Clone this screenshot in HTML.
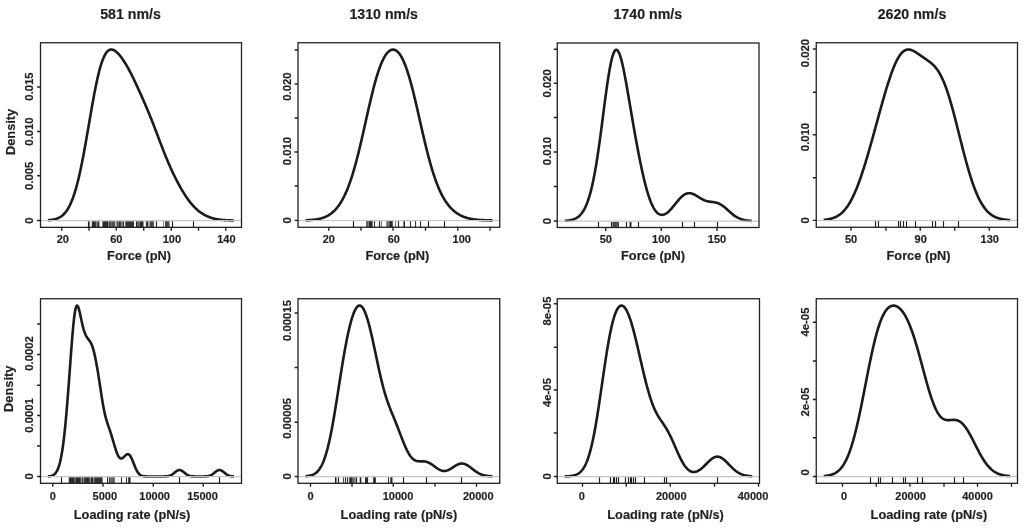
<!DOCTYPE html>
<html><head><meta charset="utf-8"><title>Density plots</title>
<style>
html,body{margin:0;padding:0;background:#fff;}
body{width:1024px;height:530px;overflow:hidden;position:relative;font-family:"Liberation Sans",sans-serif;}
svg text{font-family:"Liberation Sans",sans-serif;stroke:#231f20;stroke-width:0.18px;stroke-linejoin:round;}
</style></head><body>
<svg width="1024" height="530" viewBox="0 0 1024 530" style="display:block;position:absolute;left:0;top:0;filter:blur(0.3px)">
<rect x="0" y="0" width="1024" height="530" fill="#ffffff"/>
<g opacity="0.999" font-family="Liberation Sans, sans-serif" font-weight="bold" fill="#231f20">
<rect x="87.92" y="221.21" width="1.16" height="6.14" fill="#231f20" fill-opacity="1.00"/>
<rect x="88.92" y="221.21" width="1.16" height="6.14" fill="#231f20" fill-opacity="0.55"/>
<rect x="91.80" y="221.21" width="4.10" height="6.14" fill="#231f20" fill-opacity="0.95"/>
<rect x="95.92" y="221.21" width="1.16" height="6.14" fill="#231f20" fill-opacity="0.60"/>
<rect x="97.40" y="221.21" width="2.00" height="6.14" fill="#231f20" fill-opacity="1.00"/>
<rect x="102.40" y="221.21" width="5.60" height="6.14" fill="#231f20" fill-opacity="0.95"/>
<rect x="107.92" y="221.21" width="1.16" height="6.14" fill="#231f20" fill-opacity="0.50"/>
<rect x="109.00" y="221.21" width="6.30" height="6.14" fill="#231f20" fill-opacity="0.54"/>
<rect x="109.00" y="221.21" width="1.00" height="6.14" fill="#231f20" fill-opacity="0.64"/>
<rect x="110.33" y="221.21" width="1.00" height="6.14" fill="#231f20" fill-opacity="0.64"/>
<rect x="111.65" y="221.21" width="1.00" height="6.14" fill="#231f20" fill-opacity="0.64"/>
<rect x="112.97" y="221.21" width="1.00" height="6.14" fill="#231f20" fill-opacity="0.64"/>
<rect x="114.30" y="221.21" width="1.00" height="6.14" fill="#231f20" fill-opacity="0.64"/>
<rect x="116.40" y="221.21" width="2.30" height="6.14" fill="#231f20" fill-opacity="0.41"/>
<rect x="116.40" y="221.21" width="1.00" height="6.14" fill="#231f20" fill-opacity="0.48"/>
<rect x="117.05" y="221.21" width="1.00" height="6.14" fill="#231f20" fill-opacity="0.48"/>
<rect x="117.70" y="221.21" width="1.00" height="6.14" fill="#231f20" fill-opacity="0.48"/>
<rect x="118.70" y="221.21" width="2.20" height="6.14" fill="#231f20" fill-opacity="0.95"/>
<rect x="121.00" y="221.21" width="2.00" height="6.14" fill="#231f20" fill-opacity="0.31"/>
<rect x="121.00" y="221.21" width="1.00" height="6.14" fill="#231f20" fill-opacity="0.36"/>
<rect x="122.00" y="221.21" width="1.00" height="6.14" fill="#231f20" fill-opacity="0.36"/>
<rect x="122.92" y="221.21" width="1.16" height="6.14" fill="#231f20" fill-opacity="0.95"/>
<rect x="124.92" y="221.21" width="1.16" height="6.14" fill="#231f20" fill-opacity="0.60"/>
<rect x="125.90" y="221.21" width="8.10" height="6.14" fill="#231f20" fill-opacity="0.92"/>
<rect x="135.92" y="221.21" width="1.16" height="6.14" fill="#231f20" fill-opacity="1.00"/>
<rect x="137.10" y="221.21" width="2.50" height="6.14" fill="#231f20" fill-opacity="0.41"/>
<rect x="137.10" y="221.21" width="1.00" height="6.14" fill="#231f20" fill-opacity="0.48"/>
<rect x="137.85" y="221.21" width="1.00" height="6.14" fill="#231f20" fill-opacity="0.48"/>
<rect x="138.60" y="221.21" width="1.00" height="6.14" fill="#231f20" fill-opacity="0.48"/>
<rect x="139.60" y="221.21" width="3.90" height="6.14" fill="#231f20" fill-opacity="0.95"/>
<rect x="145.90" y="221.21" width="2.50" height="6.14" fill="#231f20" fill-opacity="0.90"/>
<rect x="149.60" y="221.21" width="4.20" height="6.14" fill="#231f20" fill-opacity="0.58"/>
<rect x="149.60" y="221.21" width="1.00" height="6.14" fill="#231f20" fill-opacity="0.68"/>
<rect x="150.67" y="221.21" width="1.00" height="6.14" fill="#231f20" fill-opacity="0.68"/>
<rect x="151.73" y="221.21" width="1.00" height="6.14" fill="#231f20" fill-opacity="0.68"/>
<rect x="152.80" y="221.21" width="1.00" height="6.14" fill="#231f20" fill-opacity="0.68"/>
<rect x="155.92" y="221.21" width="1.16" height="6.14" fill="#231f20" fill-opacity="1.00"/>
<rect x="162.92" y="221.21" width="1.16" height="6.14" fill="#231f20" fill-opacity="0.50"/>
<rect x="165.00" y="221.21" width="4.40" height="6.14" fill="#231f20" fill-opacity="0.58"/>
<rect x="165.00" y="221.21" width="1.00" height="6.14" fill="#231f20" fill-opacity="0.68"/>
<rect x="166.13" y="221.21" width="1.00" height="6.14" fill="#231f20" fill-opacity="0.68"/>
<rect x="167.27" y="221.21" width="1.00" height="6.14" fill="#231f20" fill-opacity="0.68"/>
<rect x="168.40" y="221.21" width="1.00" height="6.14" fill="#231f20" fill-opacity="0.68"/>
<rect x="171.92" y="221.21" width="1.16" height="6.14" fill="#231f20" fill-opacity="1.00"/>
<rect x="192.92" y="221.21" width="1.16" height="6.14" fill="#231f20" fill-opacity="1.00"/>
<path d="M47.94 220.22L48.44 220.18L48.94 220.14L49.44 220.10L49.94 220.05L50.44 219.99L50.94 219.93L51.44 219.87L51.94 219.80L52.44 219.72L52.94 219.63L53.44 219.54L53.94 219.43L54.44 219.32L54.94 219.19L55.44 219.06L55.94 218.91L56.44 218.75L56.94 218.58L57.44 218.39L57.94 218.18L58.44 217.96L58.94 217.72L59.44 217.46L59.94 217.18L60.44 216.88L60.94 216.55L61.44 216.20L61.94 215.83L62.44 215.42L62.94 214.99L63.44 214.53L63.94 214.04L64.44 213.51L64.94 212.95L65.44 212.35L65.94 211.72L66.44 211.04L66.94 210.32L67.44 209.56L67.94 208.76L68.44 207.90L68.94 207.00L69.44 206.05L69.94 205.05L70.44 204.00L70.94 202.89L71.44 201.72L71.94 200.50L72.44 199.22L72.94 197.88L73.44 196.47L73.94 195.01L74.44 193.48L74.94 191.89L75.44 190.24L75.94 188.52L76.44 186.73L76.94 184.88L77.44 182.97L77.94 180.99L78.44 178.94L78.94 176.83L79.44 174.66L79.94 172.42L80.44 170.13L80.94 167.77L81.44 165.36L81.94 162.89L82.44 160.36L82.94 157.79L83.44 155.17L83.94 152.50L84.44 149.79L84.94 147.04L85.44 144.25L85.94 141.44L86.44 138.59L86.94 135.72L87.44 132.83L87.94 129.93L88.44 127.02L88.94 124.10L89.44 121.18L89.94 118.27L90.44 115.37L90.94 112.48L91.44 109.61L91.94 106.77L92.44 103.96L92.94 101.18L93.44 98.44L93.94 95.75L94.44 93.10L94.94 90.52L95.44 87.99L95.94 85.52L96.44 83.12L96.94 80.78L97.44 78.53L97.94 76.35L98.44 74.24L98.94 72.23L99.44 70.29L99.94 68.44L100.44 66.68L100.94 65.01L101.44 63.43L101.94 61.94L102.44 60.54L102.94 59.23L103.44 58.01L103.94 56.88L104.44 55.84L104.94 54.89L105.44 54.02L105.94 53.24L106.44 52.54L106.94 51.92L107.44 51.38L107.94 50.91L108.44 50.52L108.94 50.20L109.44 49.94L109.94 49.75L110.44 49.62L110.94 49.56L111.44 49.54L111.94 49.59L112.44 49.68L112.94 49.82L113.44 50.01L113.94 50.24L114.44 50.51L114.94 50.82L115.44 51.17L115.94 51.55L116.44 51.96L116.94 52.40L117.44 52.88L117.94 53.38L118.44 53.90L118.94 54.46L119.44 55.03L119.94 55.63L120.44 56.25L120.94 56.89L121.44 57.56L121.94 58.24L122.44 58.94L122.94 59.67L123.44 60.41L123.94 61.16L124.44 61.94L124.94 62.73L125.44 63.54L125.94 64.37L126.44 65.21L126.94 66.07L127.44 66.95L127.94 67.84L128.44 68.75L128.94 69.67L129.44 70.60L129.94 71.55L130.44 72.51L130.94 73.48L131.44 74.46L131.94 75.46L132.44 76.47L132.94 77.48L133.44 78.51L133.94 79.54L134.44 80.59L134.94 81.64L135.44 82.70L135.94 83.77L136.44 84.84L136.94 85.92L137.44 87.00L137.94 88.09L138.44 89.19L138.94 90.29L139.44 91.39L139.94 92.50L140.44 93.61L140.94 94.73L141.44 95.85L141.94 96.98L142.44 98.11L142.94 99.24L143.44 100.38L143.94 101.53L144.44 102.68L144.94 103.84L145.44 105.00L145.94 106.17L146.44 107.34L146.94 108.52L147.44 109.71L147.94 110.91L148.44 112.11L148.94 113.32L149.44 114.54L149.94 115.77L150.44 117.00L150.94 118.25L151.44 119.50L151.94 120.76L152.44 122.02L152.94 123.29L153.44 124.57L153.94 125.86L154.44 127.15L154.94 128.45L155.44 129.75L155.94 131.06L156.44 132.37L156.94 133.69L157.44 135.00L157.94 136.32L158.44 137.64L158.94 138.96L159.44 140.27L159.94 141.59L160.44 142.90L160.94 144.21L161.44 145.51L161.94 146.81L162.44 148.10L162.94 149.38L163.44 150.66L163.94 151.93L164.44 153.19L164.94 154.44L165.44 155.68L165.94 156.91L166.44 158.13L166.94 159.34L167.44 160.54L167.94 161.72L168.44 162.90L168.94 164.06L169.44 165.20L169.94 166.34L170.44 167.46L170.94 168.58L171.44 169.67L171.94 170.76L172.44 171.84L172.94 172.90L173.44 173.95L173.94 174.99L174.44 176.01L174.94 177.03L175.44 178.03L175.94 179.02L176.44 180.00L176.94 180.97L177.44 181.93L177.94 182.87L178.44 183.81L178.94 184.73L179.44 185.64L179.94 186.54L180.44 187.43L180.94 188.31L181.44 189.17L181.94 190.03L182.44 190.87L182.94 191.70L183.44 192.52L183.94 193.32L184.44 194.12L184.94 194.90L185.44 195.66L185.94 196.42L186.44 197.16L186.94 197.89L187.44 198.60L187.94 199.30L188.44 199.99L188.94 200.66L189.44 201.32L189.94 201.96L190.44 202.59L190.94 203.21L191.44 203.81L191.94 204.40L192.44 204.97L192.94 205.53L193.44 206.08L193.94 206.61L194.44 207.13L194.94 207.63L195.44 208.13L195.94 208.60L196.44 209.07L196.94 209.52L197.44 209.96L197.94 210.38L198.44 210.80L198.94 211.20L199.44 211.58L199.94 211.96L200.44 212.33L200.94 212.68L201.44 213.02L201.94 213.35L202.44 213.67L202.94 213.99L203.44 214.28L203.94 214.57L204.44 214.85L204.94 215.12L205.44 215.39L205.94 215.64L206.44 215.88L206.94 216.11L207.44 216.34L207.94 216.55L208.44 216.76L208.94 216.96L209.44 217.15L209.94 217.34L210.44 217.51L210.94 217.68L211.44 217.85L211.94 218.00L212.44 218.15L212.94 218.29L213.44 218.43L213.94 218.55L214.44 218.68L214.94 218.79L215.44 218.91L215.94 219.01L216.44 219.11L216.94 219.20L217.44 219.29L217.94 219.38L218.44 219.46L218.94 219.53L219.44 219.60L219.94 219.67L220.44 219.73L220.94 219.79L221.44 219.85L221.94 219.90L222.44 219.95L222.94 219.99L223.44 220.04L223.94 220.07L224.44 220.11L224.94 220.15L225.44 220.18L225.94 220.21L226.44 220.23L226.94 220.26L227.44 220.28L227.94 220.30L228.44 220.32L228.94 220.34L229.44 220.36L229.94 220.37L230.44 220.38L230.94 220.40L231.44 220.41L231.94 220.42L232.44 220.43L232.94 220.44L233.44 220.45L233.94 220.45" stroke="#1c1a1b" stroke-width="2.60" fill="none" stroke-linecap="butt" stroke-linejoin="round"/>
<line x1="38.50" y1="220.61" x2="241.50" y2="220.61" stroke="#c6c6c6" stroke-width="1.15"/>
<rect x="40.50" y="42.75" width="201.00" height="184.60" fill="none" stroke="#231f20" stroke-width="1.3"/>
<path d="M61.75 227.35v3.4M89.00 227.35v3.4M116.25 227.35v3.4M143.75 227.35v3.4M171.25 227.35v3.4M198.50 227.35v3.4M225.75 227.35v3.4M40.50 220.51h-3.4M40.50 175.75h-3.4M40.50 131.50h-3.4M40.50 87.00h-3.4" stroke="#231f20" stroke-width="1.35" fill="none"/>
<text x="62.80" y="243.00" font-size="11" text-anchor="middle">20</text>
<text x="116.25" y="243.00" font-size="11" text-anchor="middle">60</text>
<text x="171.90" y="243.00" font-size="11" text-anchor="middle">100</text>
<text x="226.40" y="243.00" font-size="11" text-anchor="middle">140</text>
<text transform="translate(33.20 220.51) rotate(-90)" font-size="11.3" text-anchor="middle">0</text>
<text transform="translate(33.20 175.75) rotate(-90)" font-size="11.3" text-anchor="middle">0.005</text>
<text transform="translate(33.20 131.50) rotate(-90)" font-size="11.3" text-anchor="middle">0.010</text>
<text transform="translate(33.20 86.50) rotate(-90)" font-size="11.3" text-anchor="middle">0.015</text>
<text x="139.10" y="259.60" font-size="12.8" text-anchor="middle">Force (pN)</text>
<text transform="translate(15.10 131.90) rotate(-90)" font-size="12.8" text-anchor="middle">Density</text>
<text x="130.60" y="19.30" font-size="14.2" text-anchor="middle">581 nm/s</text>
<rect x="352.92" y="221.12" width="1.16" height="6.13" fill="#231f20" fill-opacity="1.00"/>
<rect x="366.10" y="221.12" width="2.60" height="6.13" fill="#231f20" fill-opacity="0.41"/>
<rect x="366.10" y="221.12" width="1.00" height="6.13" fill="#231f20" fill-opacity="0.48"/>
<rect x="366.90" y="221.12" width="1.00" height="6.13" fill="#231f20" fill-opacity="0.48"/>
<rect x="367.70" y="221.12" width="1.00" height="6.13" fill="#231f20" fill-opacity="0.48"/>
<rect x="368.90" y="221.12" width="3.70" height="6.13" fill="#231f20" fill-opacity="0.95"/>
<rect x="373.92" y="221.12" width="1.16" height="6.13" fill="#231f20" fill-opacity="0.90"/>
<rect x="378.92" y="221.12" width="1.16" height="6.13" fill="#231f20" fill-opacity="0.95"/>
<rect x="380.92" y="221.12" width="1.16" height="6.13" fill="#231f20" fill-opacity="0.60"/>
<rect x="386.40" y="221.12" width="3.60" height="6.13" fill="#231f20" fill-opacity="0.44"/>
<rect x="386.40" y="221.12" width="1.00" height="6.13" fill="#231f20" fill-opacity="0.52"/>
<rect x="387.70" y="221.12" width="1.00" height="6.13" fill="#231f20" fill-opacity="0.52"/>
<rect x="389.00" y="221.12" width="1.00" height="6.13" fill="#231f20" fill-opacity="0.52"/>
<rect x="390.00" y="221.12" width="2.80" height="6.13" fill="#231f20" fill-opacity="0.95"/>
<rect x="394.92" y="221.12" width="1.16" height="6.13" fill="#231f20" fill-opacity="0.60"/>
<rect x="397.92" y="221.12" width="1.16" height="6.13" fill="#231f20" fill-opacity="0.95"/>
<rect x="403.40" y="221.12" width="1.60" height="6.13" fill="#231f20" fill-opacity="0.95"/>
<rect x="409.92" y="221.12" width="1.16" height="6.13" fill="#231f20" fill-opacity="0.90"/>
<rect x="414.92" y="221.12" width="1.16" height="6.13" fill="#231f20" fill-opacity="0.90"/>
<rect x="419.92" y="221.12" width="1.16" height="6.13" fill="#231f20" fill-opacity="0.90"/>
<rect x="427.92" y="221.12" width="1.16" height="6.13" fill="#231f20" fill-opacity="1.00"/>
<rect x="443.92" y="221.12" width="1.16" height="6.13" fill="#231f20" fill-opacity="1.00"/>
<path d="M305.47 220.25L305.97 220.24L306.47 220.22L306.97 220.20L307.47 220.18L307.97 220.16L308.47 220.13L308.97 220.11L309.47 220.08L309.97 220.05L310.47 220.02L310.97 219.98L311.47 219.94L311.97 219.90L312.47 219.86L312.97 219.81L313.47 219.76L313.97 219.70L314.47 219.65L314.97 219.58L315.47 219.52L315.97 219.44L316.47 219.37L316.97 219.28L317.47 219.20L317.97 219.10L318.47 219.01L318.97 218.90L319.47 218.79L319.97 218.67L320.47 218.55L320.97 218.41L321.47 218.27L321.97 218.12L322.47 217.97L322.97 217.80L323.47 217.62L323.97 217.44L324.47 217.24L324.97 217.04L325.47 216.82L325.97 216.59L326.47 216.35L326.97 216.10L327.47 215.84L327.97 215.56L328.47 215.27L328.97 214.97L329.47 214.65L329.97 214.32L330.47 213.97L330.97 213.61L331.47 213.23L331.97 212.83L332.47 212.42L332.97 211.98L333.47 211.53L333.97 211.06L334.47 210.57L334.97 210.06L335.47 209.53L335.97 208.98L336.47 208.41L336.97 207.81L337.47 207.20L337.97 206.55L338.47 205.89L338.97 205.19L339.47 204.48L339.97 203.73L340.47 202.96L340.97 202.16L341.47 201.33L341.97 200.47L342.47 199.59L342.97 198.67L343.47 197.72L343.97 196.74L344.47 195.73L344.97 194.68L345.47 193.61L345.97 192.49L346.47 191.34L346.97 190.16L347.47 188.94L347.97 187.69L348.47 186.40L348.97 185.07L349.47 183.70L349.97 182.30L350.47 180.86L350.97 179.38L351.47 177.86L351.97 176.31L352.47 174.72L352.97 173.09L353.47 171.42L353.97 169.72L354.47 167.98L354.97 166.20L355.47 164.39L355.97 162.54L356.47 160.66L356.97 158.75L357.47 156.80L357.97 154.82L358.47 152.82L358.97 150.78L359.47 148.72L359.97 146.64L360.47 144.53L360.97 142.39L361.47 140.24L361.97 138.07L362.47 135.89L362.97 133.69L363.47 131.47L363.97 129.25L364.47 127.02L364.97 124.79L365.47 122.55L365.97 120.31L366.47 118.08L366.97 115.85L367.47 113.63L367.97 111.41L368.47 109.21L368.97 107.02L369.47 104.85L369.97 102.70L370.47 100.58L370.97 98.47L371.47 96.39L371.97 94.34L372.47 92.33L372.97 90.34L373.47 88.39L373.97 86.47L374.47 84.60L374.97 82.76L375.47 80.97L375.97 79.22L376.47 77.51L376.97 75.85L377.47 74.24L377.97 72.67L378.47 71.15L378.97 69.69L379.47 68.27L379.97 66.90L380.47 65.59L380.97 64.33L381.47 63.12L381.97 61.96L382.47 60.85L382.97 59.80L383.47 58.80L383.97 57.85L384.47 56.96L384.97 56.11L385.47 55.32L385.97 54.59L386.47 53.90L386.97 53.26L387.47 52.68L387.97 52.15L388.47 51.67L388.97 51.24L389.47 50.86L389.97 50.53L390.47 50.25L390.97 50.02L391.47 49.84L391.97 49.71L392.47 49.63L392.97 49.61L393.47 49.63L393.97 49.70L394.47 49.82L394.97 50.00L395.47 50.22L395.97 50.50L396.47 50.82L396.97 51.20L397.47 51.63L397.97 52.12L398.47 52.65L398.97 53.24L399.47 53.88L399.97 54.58L400.47 55.33L400.97 56.13L401.47 56.99L401.97 57.90L402.47 58.87L402.97 59.89L403.47 60.97L403.97 62.10L404.47 63.28L404.97 64.52L405.47 65.81L405.97 67.16L406.47 68.55L406.97 70.00L407.47 71.50L407.97 73.05L408.47 74.65L408.97 76.29L409.47 77.98L409.97 79.72L410.47 81.50L410.97 83.32L411.47 85.18L411.97 87.08L412.47 89.02L412.97 90.99L413.47 92.99L413.97 95.02L414.47 97.08L414.97 99.17L415.47 101.28L415.97 103.41L416.47 105.56L416.97 107.73L417.47 109.91L417.97 112.10L418.47 114.30L418.97 116.51L419.47 118.72L419.97 120.93L420.47 123.14L420.97 125.34L421.47 127.55L421.97 129.74L422.47 131.92L422.97 134.09L423.47 136.25L423.97 138.39L424.47 140.51L424.97 142.61L425.47 144.69L425.97 146.75L426.47 148.78L426.97 150.78L427.47 152.75L427.97 154.70L428.47 156.61L428.97 158.50L429.47 160.35L429.97 162.17L430.47 163.95L430.97 165.70L431.47 167.41L431.97 169.09L432.47 170.73L432.97 172.34L433.47 173.90L433.97 175.44L434.47 176.93L434.97 178.39L435.47 179.81L435.97 181.19L436.47 182.54L436.97 183.85L437.47 185.12L437.97 186.37L438.47 187.57L438.97 188.74L439.47 189.88L439.97 190.98L440.47 192.05L440.97 193.09L441.47 194.10L441.97 195.07L442.47 196.02L442.97 196.94L443.47 197.82L443.97 198.68L444.47 199.51L444.97 200.32L445.47 201.10L445.97 201.85L446.47 202.58L446.97 203.28L447.47 203.96L447.97 204.62L448.47 205.26L448.97 205.87L449.47 206.47L449.97 207.04L450.47 207.59L450.97 208.13L451.47 208.64L451.97 209.14L452.47 209.62L452.97 210.08L453.47 210.53L453.97 210.96L454.47 211.38L454.97 211.78L455.47 212.16L455.97 212.53L456.47 212.89L456.97 213.24L457.47 213.57L457.97 213.89L458.47 214.20L458.97 214.49L459.47 214.77L459.97 215.05L460.47 215.31L460.97 215.56L461.47 215.80L461.97 216.03L462.47 216.26L462.97 216.47L463.47 216.67L463.97 216.87L464.47 217.06L464.97 217.24L465.47 217.41L465.97 217.57L466.47 217.73L466.97 217.88L467.47 218.02L467.97 218.16L468.47 218.29L468.97 218.41L469.47 218.53L469.97 218.64L470.47 218.75L470.97 218.85L471.47 218.94L471.97 219.03L472.47 219.12L472.97 219.20L473.47 219.28L473.97 219.35L474.47 219.42L474.97 219.49L475.47 219.55L475.97 219.61L476.47 219.66L476.97 219.71L477.47 219.76L477.97 219.81L478.47 219.85L478.97 219.89L479.47 219.93L479.97 219.96L480.47 220.00L480.97 220.03L481.47 220.06L481.97 220.08L482.47 220.11L482.97 220.13L483.47 220.16L483.97 220.18L484.47 220.19L484.97 220.21L485.47 220.23L485.97 220.24L486.47 220.26L486.97 220.27L487.47 220.28L487.97 220.30L488.47 220.31L488.97 220.32L489.47 220.32L489.97 220.33L490.47 220.34L490.97 220.35L491.47 220.35L491.97 220.36L492.47 220.36" stroke="#1c1a1b" stroke-width="2.60" fill="none" stroke-linecap="butt" stroke-linejoin="round"/>
<line x1="296.00" y1="220.52" x2="499.75" y2="220.52" stroke="#c6c6c6" stroke-width="1.15"/>
<rect x="298.00" y="42.75" width="201.75" height="184.50" fill="none" stroke="#231f20" stroke-width="1.3"/>
<path d="M328.75 227.25v3.4M361.00 227.25v3.4M393.00 227.25v3.4M425.50 227.25v3.4M457.75 227.25v3.4M490.00 227.25v3.4M298.00 220.42h-3.4M298.00 186.00h-3.4M298.00 152.00h-3.4M298.00 118.00h-3.4M298.00 84.00h-3.4M298.00 50.00h-3.4" stroke="#231f20" stroke-width="1.35" fill="none"/>
<text x="328.75" y="243.00" font-size="11" text-anchor="middle">20</text>
<text x="393.80" y="243.00" font-size="11" text-anchor="middle">60</text>
<text x="461.70" y="243.00" font-size="11" text-anchor="middle">100</text>
<text transform="translate(290.90 220.42) rotate(-90)" font-size="11.3" text-anchor="middle">0</text>
<text transform="translate(290.90 151.00) rotate(-90)" font-size="11.3" text-anchor="middle">0.010</text>
<text transform="translate(290.90 86.60) rotate(-90)" font-size="11.3" text-anchor="middle">0.020</text>
<text x="397.40" y="259.60" font-size="12.8" text-anchor="middle">Force (pN)</text>
<text x="383.70" y="19.30" font-size="14.2" text-anchor="middle">1310 nm/s</text>
<rect x="597.92" y="221.72" width="1.16" height="5.78" fill="#231f20" fill-opacity="1.00"/>
<rect x="610.92" y="221.72" width="1.16" height="5.78" fill="#231f20" fill-opacity="1.00"/>
<rect x="612.60" y="221.72" width="6.30" height="5.78" fill="#231f20" fill-opacity="0.60"/>
<rect x="612.60" y="221.72" width="1.00" height="5.78" fill="#231f20" fill-opacity="0.70"/>
<rect x="613.92" y="221.72" width="1.00" height="5.78" fill="#231f20" fill-opacity="0.70"/>
<rect x="615.25" y="221.72" width="1.00" height="5.78" fill="#231f20" fill-opacity="0.70"/>
<rect x="616.58" y="221.72" width="1.00" height="5.78" fill="#231f20" fill-opacity="0.70"/>
<rect x="617.90" y="221.72" width="1.00" height="5.78" fill="#231f20" fill-opacity="0.70"/>
<rect x="625.92" y="221.72" width="1.16" height="5.78" fill="#231f20" fill-opacity="1.00"/>
<rect x="629.50" y="221.72" width="2.00" height="5.78" fill="#231f20" fill-opacity="0.95"/>
<rect x="637.92" y="221.72" width="1.16" height="5.78" fill="#231f20" fill-opacity="1.00"/>
<rect x="681.92" y="221.72" width="1.16" height="5.78" fill="#231f20" fill-opacity="1.00"/>
<rect x="693.92" y="221.72" width="1.16" height="5.78" fill="#231f20" fill-opacity="1.00"/>
<rect x="716.92" y="221.72" width="1.16" height="5.78" fill="#231f20" fill-opacity="1.00"/>
<path d="M564.72 220.82L565.22 220.79L565.72 220.76L566.22 220.72L566.72 220.68L567.22 220.64L567.72 220.59L568.22 220.53L568.72 220.47L569.22 220.39L569.72 220.32L570.22 220.23L570.72 220.13L571.22 220.02L571.72 219.90L572.22 219.77L572.72 219.63L573.22 219.47L573.72 219.29L574.22 219.10L574.72 218.90L575.22 218.67L575.72 218.42L576.22 218.15L576.72 217.85L577.22 217.54L577.72 217.19L578.22 216.82L578.72 216.41L579.22 215.97L579.72 215.50L580.22 214.99L580.72 214.45L581.22 213.86L581.72 213.23L582.22 212.56L582.72 211.84L583.22 211.06L583.72 210.24L584.22 209.36L584.72 208.42L585.22 207.42L585.72 206.35L586.22 205.22L586.72 204.02L587.22 202.75L587.72 201.40L588.22 199.97L588.72 198.46L589.22 196.87L589.72 195.18L590.22 193.41L590.72 191.55L591.22 189.59L591.72 187.53L592.22 185.38L592.72 183.12L593.22 180.76L593.72 178.30L594.22 175.73L594.72 173.06L595.22 170.29L595.72 167.41L596.22 164.43L596.72 161.35L597.22 158.18L597.72 154.91L598.22 151.54L598.72 148.10L599.22 144.57L599.72 140.97L600.22 137.31L600.72 133.58L601.22 129.81L601.72 125.99L602.22 122.14L602.72 118.27L603.22 114.39L603.72 110.52L604.22 106.65L604.72 102.82L605.22 99.02L605.72 95.28L606.22 91.60L606.72 88.01L607.22 84.50L607.72 81.11L608.22 77.83L608.72 74.68L609.22 71.68L609.72 68.84L610.22 66.16L610.72 63.66L611.22 61.35L611.72 59.23L612.22 57.32L612.72 55.62L613.22 54.12L613.72 52.85L614.22 51.80L614.72 50.98L615.22 50.38L615.72 50.00L616.22 49.84L616.72 49.91L617.22 50.19L617.72 50.68L618.22 51.37L618.72 52.27L619.22 53.35L619.72 54.62L620.22 56.06L620.72 57.67L621.22 59.43L621.72 61.34L622.22 63.38L622.72 65.54L623.22 67.83L623.72 70.21L624.22 72.69L624.72 75.25L625.22 77.89L625.72 80.60L626.22 83.36L626.72 86.17L627.22 89.02L627.72 91.90L628.22 94.81L628.72 97.73L629.22 100.67L629.72 103.62L630.22 106.58L630.72 109.53L631.22 112.48L631.72 115.41L632.22 118.34L632.72 121.25L633.22 124.15L633.72 127.02L634.22 129.87L634.72 132.70L635.22 135.51L635.72 138.29L636.22 141.03L636.72 143.75L637.22 146.44L637.72 149.10L638.22 151.72L638.72 154.30L639.22 156.85L639.72 159.36L640.22 161.83L640.72 164.25L641.22 166.64L641.72 168.98L642.22 171.27L642.72 173.51L643.22 175.71L643.72 177.85L644.22 179.94L644.72 181.97L645.22 183.95L645.72 185.87L646.22 187.73L646.72 189.53L647.22 191.27L647.72 192.95L648.22 194.57L648.72 196.12L649.22 197.60L649.72 199.03L650.22 200.38L650.72 201.68L651.22 202.90L651.72 204.06L652.22 205.16L652.72 206.20L653.22 207.17L653.72 208.07L654.22 208.92L654.72 209.70L655.22 210.42L655.72 211.09L656.22 211.69L656.72 212.24L657.22 212.73L657.72 213.17L658.22 213.55L658.72 213.88L659.22 214.16L659.72 214.39L660.22 214.57L660.72 214.70L661.22 214.79L661.72 214.83L662.22 214.83L662.72 214.79L663.22 214.70L663.72 214.58L664.22 214.42L664.72 214.22L665.22 213.98L665.72 213.71L666.22 213.41L666.72 213.07L667.22 212.70L667.72 212.31L668.22 211.89L668.72 211.44L669.22 210.96L669.72 210.47L670.22 209.95L670.72 209.42L671.22 208.86L671.72 208.29L672.22 207.71L672.72 207.11L673.22 206.51L673.72 205.90L674.22 205.28L674.72 204.65L675.22 204.03L675.72 203.41L676.22 202.78L676.72 202.17L677.22 201.56L677.72 200.95L678.22 200.36L678.72 199.79L679.22 199.22L679.72 198.67L680.22 198.14L680.72 197.64L681.22 197.15L681.72 196.68L682.22 196.24L682.72 195.83L683.22 195.44L683.72 195.08L684.22 194.75L684.72 194.46L685.22 194.19L685.72 193.95L686.22 193.74L686.72 193.57L687.22 193.43L687.72 193.32L688.22 193.24L688.72 193.20L689.22 193.18L689.72 193.20L690.22 193.24L690.72 193.31L691.22 193.41L691.72 193.54L692.22 193.69L692.72 193.87L693.22 194.07L693.72 194.28L694.22 194.52L694.72 194.77L695.22 195.04L695.72 195.32L696.22 195.61L696.72 195.91L697.22 196.22L697.72 196.53L698.22 196.85L698.72 197.16L699.22 197.48L699.72 197.79L700.22 198.09L700.72 198.39L701.22 198.68L701.72 198.96L702.22 199.23L702.72 199.49L703.22 199.74L703.72 199.97L704.22 200.19L704.72 200.39L705.22 200.58L705.72 200.75L706.22 200.91L706.72 201.06L707.22 201.19L707.72 201.30L708.22 201.41L708.72 201.50L709.22 201.59L709.72 201.66L710.22 201.73L710.72 201.79L711.22 201.85L711.72 201.91L712.22 201.97L712.72 202.03L713.22 202.10L713.72 202.16L714.22 202.24L714.72 202.33L715.22 202.42L715.72 202.53L716.22 202.65L716.72 202.79L717.22 202.94L717.72 203.11L718.22 203.30L718.72 203.50L719.22 203.72L719.72 203.97L720.22 204.23L720.72 204.51L721.22 204.81L721.72 205.12L722.22 205.46L722.72 205.81L723.22 206.17L723.72 206.56L724.22 206.95L724.72 207.36L725.22 207.78L725.72 208.21L726.22 208.64L726.72 209.08L727.22 209.53L727.72 209.98L728.22 210.43L728.72 210.89L729.22 211.34L729.72 211.79L730.22 212.23L730.72 212.67L731.22 213.10L731.72 213.53L732.22 213.94L732.72 214.34L733.22 214.74L733.72 215.12L734.22 215.49L734.72 215.85L735.22 216.19L735.72 216.52L736.22 216.83L736.72 217.13L737.22 217.42L737.72 217.69L738.22 217.95L738.72 218.19L739.22 218.42L739.72 218.63L740.22 218.83L740.72 219.02L741.22 219.20L741.72 219.36L742.22 219.51L742.72 219.65L743.22 219.78L743.72 219.90L744.22 220.01L744.72 220.11L745.22 220.21L745.72 220.29L746.22 220.37L746.72 220.44L747.22 220.50L747.72 220.56L748.22 220.61L748.72 220.66L749.22 220.70L749.72 220.74L750.22 220.77L750.72 220.80L751.22 220.83L751.72 220.85" stroke="#1c1a1b" stroke-width="2.60" fill="none" stroke-linecap="butt" stroke-linejoin="round"/>
<line x1="555.25" y1="221.12" x2="759.00" y2="221.12" stroke="#c6c6c6" stroke-width="1.15"/>
<rect x="557.25" y="43.00" width="201.75" height="184.50" fill="none" stroke="#231f20" stroke-width="1.3"/>
<path d="M605.75 227.50v3.4M661.25 227.50v3.4M717.00 227.50v3.4M557.25 221.02h-3.4M557.25 186.50h-3.4M557.25 152.00h-3.4M557.25 117.50h-3.4M557.25 83.25h-3.4M557.25 49.25h-3.4" stroke="#231f20" stroke-width="1.35" fill="none"/>
<text x="605.75" y="243.00" font-size="11" text-anchor="middle">50</text>
<text x="661.25" y="243.00" font-size="11" text-anchor="middle">100</text>
<text x="717.00" y="243.00" font-size="11" text-anchor="middle">150</text>
<text transform="translate(550.70 221.02) rotate(-90)" font-size="11.3" text-anchor="middle">0</text>
<text transform="translate(550.70 151.00) rotate(-90)" font-size="11.3" text-anchor="middle">0.010</text>
<text transform="translate(550.70 83.25) rotate(-90)" font-size="11.3" text-anchor="middle">0.020</text>
<text x="653.00" y="259.60" font-size="12.8" text-anchor="middle">Force (pN)</text>
<text x="647.80" y="19.30" font-size="14.2" text-anchor="middle">1740 nm/s</text>
<rect x="874.92" y="221.12" width="1.16" height="6.13" fill="#231f20" fill-opacity="1.00"/>
<rect x="877.92" y="221.12" width="1.16" height="6.13" fill="#231f20" fill-opacity="1.00"/>
<rect x="897.92" y="221.12" width="1.16" height="6.13" fill="#231f20" fill-opacity="1.00"/>
<rect x="899.92" y="221.12" width="1.16" height="6.13" fill="#231f20" fill-opacity="1.00"/>
<rect x="902.92" y="221.12" width="1.16" height="6.13" fill="#231f20" fill-opacity="1.00"/>
<rect x="905.92" y="221.12" width="1.16" height="6.13" fill="#231f20" fill-opacity="1.00"/>
<rect x="914.92" y="221.12" width="1.16" height="6.13" fill="#231f20" fill-opacity="1.00"/>
<rect x="931.92" y="221.12" width="1.16" height="6.13" fill="#231f20" fill-opacity="1.00"/>
<rect x="934.92" y="221.12" width="1.16" height="6.13" fill="#231f20" fill-opacity="1.00"/>
<rect x="942.92" y="221.12" width="1.16" height="6.13" fill="#231f20" fill-opacity="1.00"/>
<rect x="957.92" y="221.12" width="1.16" height="6.13" fill="#231f20" fill-opacity="1.00"/>
<path d="M823.70 219.90L824.20 219.85L824.70 219.80L825.20 219.74L825.70 219.68L826.20 219.61L826.70 219.54L827.20 219.47L827.70 219.39L828.20 219.30L828.70 219.21L829.20 219.11L829.70 219.00L830.20 218.88L830.70 218.76L831.20 218.63L831.70 218.49L832.20 218.33L832.70 218.17L833.20 218.00L833.70 217.82L834.20 217.63L834.70 217.42L835.20 217.20L835.70 216.97L836.20 216.73L836.70 216.47L837.20 216.20L837.70 215.91L838.20 215.60L838.70 215.28L839.20 214.94L839.70 214.58L840.20 214.21L840.70 213.81L841.20 213.40L841.70 212.96L842.20 212.50L842.70 212.03L843.20 211.53L843.70 211.00L844.20 210.46L844.70 209.89L845.20 209.29L845.70 208.68L846.20 208.03L846.70 207.36L847.20 206.67L847.70 205.94L848.20 205.20L848.70 204.42L849.20 203.62L849.70 202.78L850.20 201.93L850.70 201.04L851.20 200.12L851.70 199.18L852.20 198.20L852.70 197.20L853.20 196.17L853.70 195.11L854.20 194.03L854.70 192.91L855.20 191.77L855.70 190.59L856.20 189.39L856.70 188.17L857.20 186.91L857.70 185.63L858.20 184.32L858.70 182.99L859.20 181.63L859.70 180.25L860.20 178.84L860.70 177.40L861.20 175.95L861.70 174.47L862.20 172.97L862.70 171.44L863.20 169.90L863.70 168.34L864.20 166.75L864.70 165.15L865.20 163.53L865.70 161.89L866.20 160.24L866.70 158.57L867.20 156.88L867.70 155.18L868.20 153.47L868.70 151.74L869.20 150.01L869.70 148.26L870.20 146.50L870.70 144.73L871.20 142.95L871.70 141.17L872.20 139.37L872.70 137.57L873.20 135.77L873.70 133.95L874.20 132.14L874.70 130.32L875.20 128.50L875.70 126.67L876.20 124.85L876.70 123.02L877.20 121.19L877.70 119.37L878.20 117.55L878.70 115.72L879.20 113.91L879.70 112.09L880.20 110.29L880.70 108.49L881.20 106.69L881.70 104.90L882.20 103.13L882.70 101.36L883.20 99.60L883.70 97.86L884.20 96.13L884.70 94.41L885.20 92.71L885.70 91.03L886.20 89.36L886.70 87.71L887.20 86.08L887.70 84.48L888.20 82.89L888.70 81.33L889.20 79.80L889.70 78.29L890.20 76.81L890.70 75.36L891.20 73.94L891.70 72.55L892.20 71.19L892.70 69.87L893.20 68.58L893.70 67.33L894.20 66.12L894.70 64.94L895.20 63.81L895.70 62.71L896.20 61.66L896.70 60.65L897.20 59.68L897.70 58.75L898.20 57.87L898.70 57.04L899.20 56.24L899.70 55.50L900.20 54.80L900.70 54.14L901.20 53.53L901.70 52.97L902.20 52.45L902.70 51.97L903.20 51.54L903.70 51.16L904.20 50.82L904.70 50.52L905.20 50.26L905.70 50.04L906.20 49.87L906.70 49.73L907.20 49.63L907.70 49.56L908.20 49.53L908.70 49.54L909.20 49.57L909.70 49.64L910.20 49.74L910.70 49.86L911.20 50.01L911.70 50.18L912.20 50.38L912.70 50.59L913.20 50.83L913.70 51.08L914.20 51.35L914.70 51.63L915.20 51.92L915.70 52.23L916.20 52.55L916.70 52.87L917.20 53.20L917.70 53.54L918.20 53.88L918.70 54.22L919.20 54.57L919.70 54.92L920.20 55.27L920.70 55.62L921.20 55.97L921.70 56.32L922.20 56.67L922.70 57.01L923.20 57.36L923.70 57.70L924.20 58.05L924.70 58.39L925.20 58.73L925.70 59.08L926.20 59.42L926.70 59.77L927.20 60.11L927.70 60.47L928.20 60.82L928.70 61.19L929.20 61.55L929.70 61.93L930.20 62.32L930.70 62.72L931.20 63.13L931.70 63.55L932.20 63.99L932.70 64.45L933.20 64.93L933.70 65.42L934.20 65.94L934.70 66.48L935.20 67.05L935.70 67.64L936.20 68.27L936.70 68.92L937.20 69.60L937.70 70.31L938.20 71.06L938.70 71.84L939.20 72.65L939.70 73.51L940.20 74.40L940.70 75.33L941.20 76.30L941.70 77.31L942.20 78.36L942.70 79.45L943.20 80.58L943.70 81.75L944.20 82.96L944.70 84.22L945.20 85.52L945.70 86.85L946.20 88.23L946.70 89.65L947.20 91.11L947.70 92.60L948.20 94.14L948.70 95.71L949.20 97.31L949.70 98.96L950.20 100.63L950.70 102.34L951.20 104.08L951.70 105.85L952.20 107.64L952.70 109.46L953.20 111.31L953.70 113.18L954.20 115.07L954.70 116.98L955.20 118.91L955.70 120.85L956.20 122.81L956.70 124.77L957.20 126.75L957.70 128.74L958.20 130.73L958.70 132.72L959.20 134.72L959.70 136.72L960.20 138.71L960.70 140.70L961.20 142.69L961.70 144.67L962.20 146.63L962.70 148.59L963.20 150.54L963.70 152.47L964.20 154.38L964.70 156.28L965.20 158.15L965.70 160.01L966.20 161.85L966.70 163.66L967.20 165.45L967.70 167.21L968.20 168.95L968.70 170.65L969.20 172.33L969.70 173.98L970.20 175.60L970.70 177.19L971.20 178.75L971.70 180.28L972.20 181.77L972.70 183.23L973.20 184.65L973.70 186.05L974.20 187.40L974.70 188.73L975.20 190.02L975.70 191.27L976.20 192.49L976.70 193.67L977.20 194.82L977.70 195.94L978.20 197.02L978.70 198.07L979.20 199.09L979.70 200.07L980.20 201.02L980.70 201.93L981.20 202.81L981.70 203.67L982.20 204.49L982.70 205.28L983.20 206.04L983.70 206.77L984.20 207.47L984.70 208.15L985.20 208.79L985.70 209.41L986.20 210.01L986.70 210.58L987.20 211.12L987.70 211.64L988.20 212.13L988.70 212.61L989.20 213.06L989.70 213.49L990.20 213.90L990.70 214.29L991.20 214.65L991.70 215.01L992.20 215.34L992.70 215.65L993.20 215.95L993.70 216.24L994.20 216.51L994.70 216.76L995.20 217.00L995.70 217.22L996.20 217.44L996.70 217.64L997.20 217.83L997.70 218.01L998.20 218.17L998.70 218.33L999.20 218.48L999.70 218.62L1000.20 218.75L1000.70 218.87L1001.20 218.98L1001.70 219.09L1002.20 219.19L1002.70 219.28L1003.20 219.37L1003.70 219.45L1004.20 219.52L1004.70 219.59L1005.20 219.66L1005.70 219.72L1006.20 219.77L1006.70 219.83L1007.20 219.87L1007.70 219.92L1008.20 219.96L1008.70 220.00L1009.20 220.03L1009.70 220.07L1010.20 220.10" stroke="#1c1a1b" stroke-width="2.60" fill="none" stroke-linecap="butt" stroke-linejoin="round"/>
<line x1="814.25" y1="220.52" x2="1017.50" y2="220.52" stroke="#c6c6c6" stroke-width="1.15"/>
<rect x="816.25" y="42.75" width="201.25" height="184.50" fill="none" stroke="#231f20" stroke-width="1.3"/>
<path d="M851.00 227.25v3.4M886.00 227.25v3.4M920.25 227.25v3.4M954.75 227.25v3.4M989.25 227.25v3.4M816.25 220.42h-3.4M816.25 177.75h-3.4M816.25 134.75h-3.4M816.25 92.25h-3.4M816.25 49.00h-3.4" stroke="#231f20" stroke-width="1.35" fill="none"/>
<text x="851.00" y="243.00" font-size="11" text-anchor="middle">50</text>
<text x="920.70" y="243.00" font-size="11" text-anchor="middle">90</text>
<text x="989.70" y="243.00" font-size="11" text-anchor="middle">130</text>
<text transform="translate(808.50 220.42) rotate(-90)" font-size="11.3" text-anchor="middle">0</text>
<text transform="translate(808.50 137.00) rotate(-90)" font-size="11.3" text-anchor="middle">0.010</text>
<text transform="translate(808.50 53.00) rotate(-90)" font-size="11.3" text-anchor="middle">0.020</text>
<text x="918.50" y="259.60" font-size="12.8" text-anchor="middle">Force (pN)</text>
<text x="912.00" y="19.30" font-size="14.2" text-anchor="middle">2620 nm/s</text>
<rect x="60.92" y="477.16" width="1.16" height="6.14" fill="#231f20" fill-opacity="1.00"/>
<rect x="68.80" y="477.16" width="5.95" height="6.14" fill="#231f20" fill-opacity="0.95"/>
<rect x="74.92" y="477.16" width="1.16" height="6.14" fill="#231f20" fill-opacity="0.70"/>
<rect x="76.00" y="477.16" width="4.40" height="6.14" fill="#231f20" fill-opacity="0.95"/>
<rect x="79.92" y="477.16" width="1.16" height="6.14" fill="#231f20" fill-opacity="0.70"/>
<rect x="81.60" y="477.16" width="1.90" height="6.14" fill="#231f20" fill-opacity="0.95"/>
<rect x="83.92" y="477.16" width="1.16" height="6.14" fill="#231f20" fill-opacity="0.75"/>
<rect x="84.75" y="477.16" width="4.35" height="6.14" fill="#231f20" fill-opacity="0.95"/>
<rect x="88.92" y="477.16" width="1.16" height="6.14" fill="#231f20" fill-opacity="0.70"/>
<rect x="90.40" y="477.16" width="3.10" height="6.14" fill="#231f20" fill-opacity="0.95"/>
<rect x="93.92" y="477.16" width="1.16" height="6.14" fill="#231f20" fill-opacity="0.70"/>
<rect x="94.75" y="477.16" width="7.85" height="6.14" fill="#231f20" fill-opacity="0.92"/>
<rect x="106.92" y="477.16" width="1.16" height="6.14" fill="#231f20" fill-opacity="0.95"/>
<rect x="108.92" y="477.16" width="1.16" height="6.14" fill="#231f20" fill-opacity="0.90"/>
<rect x="110.40" y="477.16" width="4.40" height="6.14" fill="#231f20" fill-opacity="0.48"/>
<rect x="110.40" y="477.16" width="1.00" height="6.14" fill="#231f20" fill-opacity="0.56"/>
<rect x="111.53" y="477.16" width="1.00" height="6.14" fill="#231f20" fill-opacity="0.56"/>
<rect x="112.67" y="477.16" width="1.00" height="6.14" fill="#231f20" fill-opacity="0.56"/>
<rect x="113.80" y="477.16" width="1.00" height="6.14" fill="#231f20" fill-opacity="0.56"/>
<rect x="120.92" y="477.16" width="1.16" height="6.14" fill="#231f20" fill-opacity="0.90"/>
<rect x="125.92" y="477.16" width="1.16" height="6.14" fill="#231f20" fill-opacity="0.90"/>
<rect x="128.10" y="477.16" width="2.50" height="6.14" fill="#231f20" fill-opacity="0.90"/>
<rect x="178.92" y="477.16" width="1.16" height="6.14" fill="#231f20" fill-opacity="1.00"/>
<rect x="218.92" y="477.16" width="1.16" height="6.14" fill="#231f20" fill-opacity="1.00"/>
<path d="M47.94 476.38L48.44 476.34L48.94 476.30L49.44 476.25L49.94 476.18L50.44 476.09L50.94 475.98L51.44 475.85L51.94 475.68L52.44 475.47L52.94 475.23L53.44 474.93L53.94 474.59L54.44 474.17L54.94 473.69L55.44 473.13L55.94 472.47L56.44 471.72L56.94 470.86L57.44 469.87L57.94 468.74L58.44 467.45L58.94 465.99L59.44 464.35L59.94 462.49L60.44 460.41L60.94 458.07L61.44 455.48L61.94 452.60L62.44 449.43L62.94 445.96L63.44 442.17L63.94 438.07L64.44 433.65L64.94 428.91L65.44 423.88L65.94 418.55L66.44 412.94L66.94 407.07L67.44 400.96L67.94 394.64L68.44 388.14L68.94 381.49L69.44 374.73L69.94 367.91L70.44 361.09L70.94 354.34L71.44 347.71L71.94 341.30L72.44 335.19L72.94 329.47L73.44 324.21L73.94 319.51L74.44 315.43L74.94 312.02L75.44 309.33L75.94 307.37L76.44 306.14L76.94 305.60L77.44 305.71L77.94 306.41L78.44 307.61L78.94 309.23L79.44 311.16L79.94 313.32L80.44 315.61L80.94 317.96L81.44 320.31L81.94 322.58L82.44 324.75L82.94 326.78L83.44 328.66L83.94 330.36L84.44 331.90L84.94 333.27L85.44 334.49L85.94 335.55L86.44 336.49L86.94 337.32L87.44 338.05L87.94 338.72L88.44 339.35L88.94 339.98L89.44 340.63L89.94 341.34L90.44 342.13L90.94 343.04L91.44 344.09L91.94 345.29L92.44 346.67L92.94 348.21L93.44 349.94L93.94 351.83L94.44 353.90L94.94 356.12L95.44 358.49L95.94 361.01L96.44 363.66L96.94 366.44L97.44 369.33L97.94 372.34L98.44 375.44L98.94 378.64L99.44 381.90L99.94 385.20L100.44 388.52L100.94 391.84L101.44 395.10L101.94 398.29L102.44 401.37L102.94 404.32L103.44 407.10L103.94 409.71L104.44 412.13L104.94 414.36L105.44 416.42L105.94 418.31L106.44 420.06L106.94 421.69L107.44 423.23L107.94 424.72L108.44 426.16L108.94 427.60L109.44 429.05L109.94 430.53L110.44 432.05L110.94 433.61L111.44 435.22L111.94 436.88L112.44 438.57L112.94 440.28L113.44 442.01L113.94 443.74L114.44 445.44L114.94 447.10L115.44 448.71L115.94 450.24L116.44 451.68L116.94 453.01L117.44 454.22L117.94 455.29L118.44 456.21L118.94 456.97L119.44 457.58L119.94 458.04L120.44 458.33L120.94 458.48L121.44 458.48L121.94 458.36L122.44 458.12L122.94 457.78L123.44 457.37L123.94 456.90L124.44 456.41L124.94 455.91L125.44 455.43L125.94 454.99L126.44 454.62L126.94 454.35L127.44 454.19L127.94 454.16L128.44 454.28L128.94 454.54L129.44 454.96L129.94 455.54L130.44 456.26L130.94 457.12L131.44 458.10L131.94 459.18L132.44 460.34L132.94 461.57L133.44 462.83L133.94 464.10L134.44 465.35L134.94 466.58L135.44 467.76L135.94 468.87L136.44 469.90L136.94 470.85L137.44 471.71L137.94 472.48L138.44 473.16L138.94 473.75L139.44 474.26L139.94 474.69L140.44 475.05L140.94 475.35L141.44 475.60L141.94 475.80L142.44 475.96L142.94 476.08L143.44 476.18L143.94 476.25L144.44 476.31L144.94 476.35L145.44 476.38L145.94 476.41L146.44 476.42L146.94 476.44L147.44 476.45L147.94 476.45L148.44 476.46L148.94 476.46L149.44 476.46L149.94 476.46L150.44 476.46L150.94 476.46L151.44 476.46L151.94 476.46L152.44 476.46L152.94 476.46L153.44 476.46L153.94 476.46L154.44 476.46L154.94 476.46L155.44 476.46L155.94 476.46L156.44 476.46L156.94 476.46L157.44 476.46L157.94 476.46L158.44 476.46L158.94 476.46L159.44 476.46L159.94 476.46L160.44 476.46L160.94 476.46L161.44 476.46L161.94 476.46L162.44 476.45L162.94 476.45L163.44 476.44L163.94 476.43L164.44 476.42L164.94 476.40L165.44 476.38L165.94 476.35L166.44 476.31L166.94 476.26L167.44 476.19L167.94 476.11L168.44 476.02L168.94 475.90L169.44 475.75L169.94 475.58L170.44 475.38L170.94 475.15L171.44 474.89L171.94 474.60L172.44 474.27L172.94 473.92L173.44 473.55L173.94 473.15L174.44 472.75L174.94 472.34L175.44 471.93L175.94 471.54L176.44 471.18L176.94 470.85L177.44 470.56L177.94 470.33L178.44 470.16L178.94 470.05L179.44 470.01L179.94 470.05L180.44 470.15L180.94 470.32L181.44 470.56L181.94 470.84L182.44 471.17L182.94 471.53L183.44 471.92L183.94 472.33L184.44 472.74L184.94 473.14L185.44 473.54L185.94 473.91L186.44 474.27L186.94 474.59L187.44 474.88L187.94 475.15L188.44 475.38L188.94 475.58L189.44 475.75L189.94 475.89L190.44 476.01L190.94 476.11L191.44 476.19L191.94 476.26L192.44 476.31L192.94 476.35L193.44 476.38L193.94 476.40L194.44 476.42L194.94 476.43L195.44 476.44L195.94 476.45L196.44 476.45L196.94 476.46L197.44 476.46L197.94 476.46L198.44 476.46L198.94 476.46L199.44 476.46L199.94 476.46L200.44 476.46L200.94 476.46L201.44 476.46L201.94 476.46L202.44 476.45L202.94 476.45L203.44 476.44L203.94 476.43L204.44 476.42L204.94 476.40L205.44 476.38L205.94 476.35L206.44 476.31L206.94 476.26L207.44 476.19L207.94 476.11L208.44 476.02L208.94 475.90L209.44 475.75L209.94 475.58L210.44 475.38L210.94 475.15L211.44 474.89L211.94 474.60L212.44 474.27L212.94 473.92L213.44 473.55L213.94 473.15L214.44 472.75L214.94 472.34L215.44 471.93L215.94 471.54L216.44 471.18L216.94 470.85L217.44 470.56L217.94 470.33L218.44 470.16L218.94 470.05L219.44 470.01L219.94 470.05L220.44 470.15L220.94 470.32L221.44 470.56L221.94 470.84L222.44 471.17L222.94 471.53L223.44 471.92L223.94 472.33L224.44 472.74L224.94 473.14L225.44 473.54L225.94 473.91L226.44 474.27L226.94 474.59L227.44 474.88L227.94 475.15L228.44 475.38L228.94 475.58L229.44 475.75L229.94 475.89L230.44 476.01L230.94 476.11L231.44 476.19L231.94 476.26L232.44 476.31L232.94 476.35L233.44 476.38L233.94 476.40" stroke="#1c1a1b" stroke-width="2.60" fill="none" stroke-linecap="butt" stroke-linejoin="round"/>
<line x1="38.50" y1="476.56" x2="241.50" y2="476.56" stroke="#c6c6c6" stroke-width="1.15"/>
<rect x="40.50" y="298.75" width="201.00" height="184.55" fill="none" stroke="#231f20" stroke-width="1.3"/>
<path d="M52.75 483.30v3.4M103.00 483.30v3.4M153.25 483.30v3.4M203.25 483.30v3.4M40.50 476.46h-3.4M40.50 446.00h-3.4M40.50 415.50h-3.4M40.50 385.25h-3.4M40.50 354.50h-3.4M40.50 324.00h-3.4" stroke="#231f20" stroke-width="1.35" fill="none"/>
<text x="52.75" y="499.70" font-size="11" text-anchor="middle">0</text>
<text x="104.80" y="499.70" font-size="11" text-anchor="middle">5000</text>
<text x="154.60" y="499.70" font-size="11" text-anchor="middle">10000</text>
<text x="202.50" y="499.70" font-size="11" text-anchor="middle">15000</text>
<text transform="translate(33.20 476.46) rotate(-90)" font-size="11.3" text-anchor="middle">0</text>
<text transform="translate(33.20 415.50) rotate(-90)" font-size="11.3" text-anchor="middle">0.0001</text>
<text transform="translate(33.20 353.50) rotate(-90)" font-size="11.3" text-anchor="middle">0.0002</text>
<text x="132.10" y="519.30" font-size="12.8" text-anchor="middle">Loading rate (pN/s)</text>
<text transform="translate(13.10 388.80) rotate(-90)" font-size="12.8" text-anchor="middle">Density</text>
<rect x="334.92" y="477.16" width="1.16" height="6.14" fill="#231f20" fill-opacity="1.00"/>
<rect x="335.92" y="477.16" width="1.16" height="6.14" fill="#231f20" fill-opacity="0.50"/>
<rect x="337.92" y="477.16" width="1.16" height="6.14" fill="#231f20" fill-opacity="1.00"/>
<rect x="342.92" y="477.16" width="1.16" height="6.14" fill="#231f20" fill-opacity="0.80"/>
<rect x="344.92" y="477.16" width="1.16" height="6.14" fill="#231f20" fill-opacity="0.90"/>
<rect x="346.92" y="477.16" width="1.16" height="6.14" fill="#231f20" fill-opacity="0.90"/>
<rect x="348.92" y="477.16" width="1.16" height="6.14" fill="#231f20" fill-opacity="0.60"/>
<rect x="349.70" y="477.16" width="2.20" height="6.14" fill="#231f20" fill-opacity="1.00"/>
<rect x="351.90" y="477.16" width="2.80" height="6.14" fill="#231f20" fill-opacity="0.41"/>
<rect x="351.90" y="477.16" width="1.00" height="6.14" fill="#231f20" fill-opacity="0.48"/>
<rect x="352.80" y="477.16" width="1.00" height="6.14" fill="#231f20" fill-opacity="0.48"/>
<rect x="353.70" y="477.16" width="1.00" height="6.14" fill="#231f20" fill-opacity="0.48"/>
<rect x="354.92" y="477.16" width="1.16" height="6.14" fill="#231f20" fill-opacity="0.40"/>
<rect x="355.92" y="477.16" width="1.16" height="6.14" fill="#231f20" fill-opacity="1.00"/>
<rect x="359.70" y="477.16" width="1.60" height="6.14" fill="#231f20" fill-opacity="1.00"/>
<rect x="365.00" y="477.16" width="3.10" height="6.14" fill="#231f20" fill-opacity="0.95"/>
<rect x="373.10" y="477.16" width="2.80" height="6.14" fill="#231f20" fill-opacity="0.95"/>
<rect x="387.92" y="477.16" width="1.16" height="6.14" fill="#231f20" fill-opacity="0.90"/>
<rect x="390.30" y="477.16" width="2.20" height="6.14" fill="#231f20" fill-opacity="0.95"/>
<rect x="402.92" y="477.16" width="1.16" height="6.14" fill="#231f20" fill-opacity="1.00"/>
<rect x="425.92" y="477.16" width="1.16" height="6.14" fill="#231f20" fill-opacity="1.00"/>
<rect x="460.92" y="477.16" width="1.16" height="6.14" fill="#231f20" fill-opacity="1.00"/>
<path d="M305.47 476.24L305.97 476.20L306.47 476.16L306.97 476.11L307.47 476.05L307.97 475.99L308.47 475.91L308.97 475.83L309.47 475.74L309.97 475.63L310.47 475.52L310.97 475.38L311.47 475.23L311.97 475.07L312.47 474.88L312.97 474.68L313.47 474.45L313.97 474.19L314.47 473.91L314.97 473.60L315.47 473.26L315.97 472.89L316.47 472.47L316.97 472.02L317.47 471.53L317.97 471.00L318.47 470.41L318.97 469.78L319.47 469.09L319.97 468.35L320.47 467.55L320.97 466.69L321.47 465.77L321.97 464.78L322.47 463.72L322.97 462.59L323.47 461.38L323.97 460.10L324.47 458.73L324.97 457.29L325.47 455.76L325.97 454.15L326.47 452.46L326.97 450.68L327.47 448.80L327.97 446.85L328.47 444.80L328.97 442.67L329.47 440.45L329.97 438.14L330.47 435.76L330.97 433.29L331.47 430.74L331.97 428.11L332.47 425.41L332.97 422.64L333.47 419.80L333.97 416.91L334.47 413.96L334.97 410.95L335.47 407.90L335.97 404.81L336.47 401.69L336.97 398.53L337.47 395.36L337.97 392.17L338.47 388.97L338.97 385.77L339.47 382.57L339.97 379.38L340.47 376.21L340.97 373.05L341.47 369.93L341.97 366.84L342.47 363.79L342.97 360.79L343.47 357.83L343.97 354.92L344.47 352.07L344.97 349.29L345.47 346.56L345.97 343.91L346.47 341.33L346.97 338.82L347.47 336.38L347.97 334.02L348.47 331.75L348.97 329.55L349.47 327.44L349.97 325.42L350.47 323.48L350.97 321.64L351.47 319.88L351.97 318.22L352.47 316.65L352.97 315.17L353.47 313.80L353.97 312.52L354.47 311.35L354.97 310.27L355.47 309.31L355.97 308.45L356.47 307.69L356.97 307.05L357.47 306.52L357.97 306.10L358.47 305.79L358.97 305.60L359.47 305.52L359.97 305.55L360.47 305.71L360.97 305.97L361.47 306.35L361.97 306.84L362.47 307.45L362.97 308.17L363.47 308.99L363.97 309.92L364.47 310.96L364.97 312.10L365.47 313.34L365.97 314.68L366.47 316.10L366.97 317.62L367.47 319.23L367.97 320.91L368.47 322.68L368.97 324.52L369.47 326.43L369.97 328.40L370.47 330.44L370.97 332.53L371.47 334.67L371.97 336.86L372.47 339.09L372.97 341.36L373.47 343.66L373.97 345.98L374.47 348.33L374.97 350.69L375.47 353.06L375.97 355.44L376.47 357.81L376.97 360.18L377.47 362.54L377.97 364.88L378.47 367.20L378.97 369.49L379.47 371.74L379.97 373.97L380.47 376.15L380.97 378.29L381.47 380.38L381.97 382.42L382.47 384.41L382.97 386.35L383.47 388.23L383.97 390.06L384.47 391.83L384.97 393.55L385.47 395.21L385.97 396.82L386.47 398.38L386.97 399.90L387.47 401.36L387.97 402.79L388.47 404.18L388.97 405.53L389.47 406.85L389.97 408.15L390.47 409.43L390.97 410.68L391.47 411.92L391.97 413.15L392.47 414.38L392.97 415.60L393.47 416.81L393.97 418.04L394.47 419.26L394.97 420.49L395.47 421.73L395.97 422.98L396.47 424.24L396.97 425.51L397.47 426.79L397.97 428.07L398.47 429.37L398.97 430.67L399.47 431.98L399.97 433.28L400.47 434.59L400.97 435.90L401.47 437.20L401.97 438.49L402.47 439.77L402.97 441.03L403.47 442.28L403.97 443.50L404.47 444.70L404.97 445.87L405.47 447.01L405.97 448.12L406.47 449.19L406.97 450.22L407.47 451.21L407.97 452.15L408.47 453.05L408.97 453.90L409.47 454.71L409.97 455.46L410.47 456.17L410.97 456.82L411.47 457.42L411.97 457.97L412.47 458.48L412.97 458.93L413.47 459.34L413.97 459.70L414.47 460.01L414.97 460.29L415.47 460.52L415.97 460.72L416.47 460.88L416.97 461.02L417.47 461.12L417.97 461.20L418.47 461.26L418.97 461.29L419.47 461.32L419.97 461.33L420.47 461.33L420.97 461.33L421.47 461.33L421.97 461.33L422.47 461.34L422.97 461.35L423.47 461.37L423.97 461.41L424.47 461.46L424.97 461.52L425.47 461.61L425.97 461.71L426.47 461.84L426.97 461.98L427.47 462.15L427.97 462.34L428.47 462.55L428.97 462.79L429.47 463.04L429.97 463.31L430.47 463.61L430.97 463.91L431.47 464.24L431.97 464.57L432.47 464.92L432.97 465.28L433.47 465.65L433.97 466.02L434.47 466.39L434.97 466.76L435.47 467.13L435.97 467.49L436.47 467.85L436.97 468.19L437.47 468.53L437.97 468.85L438.47 469.15L438.97 469.43L439.47 469.70L439.97 469.94L440.47 470.16L440.97 470.36L441.47 470.53L441.97 470.67L442.47 470.78L442.97 470.87L443.47 470.93L443.97 470.96L444.47 470.95L444.97 470.92L445.47 470.87L445.97 470.78L446.47 470.67L446.97 470.53L447.47 470.36L447.97 470.17L448.47 469.96L448.97 469.72L449.47 469.47L449.97 469.20L450.47 468.91L450.97 468.61L451.47 468.30L451.97 467.98L452.47 467.65L452.97 467.32L453.47 466.99L453.97 466.66L454.47 466.34L454.97 466.02L455.47 465.71L455.97 465.41L456.47 465.13L456.97 464.86L457.47 464.62L457.97 464.39L458.47 464.19L458.97 464.01L459.47 463.85L459.97 463.73L460.47 463.63L460.97 463.56L461.47 463.52L461.97 463.52L462.47 463.54L462.97 463.60L463.47 463.68L463.97 463.80L464.47 463.94L464.97 464.12L465.47 464.32L465.97 464.54L466.47 464.79L466.97 465.07L467.47 465.36L467.97 465.67L468.47 466.00L468.97 466.35L469.47 466.70L469.97 467.07L470.47 467.44L470.97 467.82L471.47 468.21L471.97 468.60L472.47 468.99L472.97 469.37L473.47 469.75L473.97 470.13L474.47 470.50L474.97 470.86L475.47 471.22L475.97 471.56L476.47 471.89L476.97 472.21L477.47 472.52L477.97 472.81L478.47 473.09L478.97 473.36L479.47 473.61L479.97 473.85L480.47 474.07L480.97 474.28L481.47 474.48L481.97 474.66L482.47 474.84L482.97 474.99L483.47 475.14L483.97 475.27L484.47 475.40L484.97 475.51L485.47 475.61L485.97 475.71L486.47 475.79L486.97 475.87L487.47 475.94L487.97 476.00L488.47 476.06L488.97 476.11L489.47 476.15L489.97 476.19L490.47 476.23L490.97 476.26L491.47 476.29L491.97 476.31L492.47 476.33" stroke="#1c1a1b" stroke-width="2.60" fill="none" stroke-linecap="butt" stroke-linejoin="round"/>
<line x1="296.00" y1="476.56" x2="499.75" y2="476.56" stroke="#c6c6c6" stroke-width="1.15"/>
<rect x="298.00" y="298.75" width="201.75" height="184.55" fill="none" stroke="#231f20" stroke-width="1.3"/>
<path d="M310.50 483.30v3.4M352.00 483.30v3.4M393.25 483.30v3.4M435.00 483.30v3.4M476.50 483.30v3.4M298.00 476.46h-3.4M298.00 422.25h-3.4M298.00 367.50h-3.4M298.00 313.00h-3.4" stroke="#231f20" stroke-width="1.35" fill="none"/>
<text x="310.50" y="499.70" font-size="11" text-anchor="middle">0</text>
<text x="398.00" y="499.70" font-size="11" text-anchor="middle">10000</text>
<text x="478.25" y="499.70" font-size="11" text-anchor="middle">20000</text>
<text transform="translate(290.90 476.46) rotate(-90)" font-size="11.3" text-anchor="middle">0</text>
<text transform="translate(290.90 418.40) rotate(-90)" font-size="11.3" text-anchor="middle">0.00005</text>
<text transform="translate(290.90 320.50) rotate(-90)" font-size="11.3" text-anchor="middle">0.00015</text>
<text x="398.90" y="519.30" font-size="12.8" text-anchor="middle">Loading rate (pN/s)</text>
<rect x="598.92" y="477.16" width="1.16" height="6.14" fill="#231f20" fill-opacity="1.00"/>
<rect x="609.92" y="477.16" width="1.16" height="6.14" fill="#231f20" fill-opacity="1.00"/>
<rect x="612.92" y="477.16" width="1.16" height="6.14" fill="#231f20" fill-opacity="1.00"/>
<rect x="613.92" y="477.16" width="1.16" height="6.14" fill="#231f20" fill-opacity="1.00"/>
<rect x="615.92" y="477.16" width="1.16" height="6.14" fill="#231f20" fill-opacity="1.00"/>
<rect x="617.92" y="477.16" width="1.16" height="6.14" fill="#231f20" fill-opacity="1.00"/>
<rect x="624.92" y="477.16" width="1.16" height="6.14" fill="#231f20" fill-opacity="1.00"/>
<rect x="627.92" y="477.16" width="1.16" height="6.14" fill="#231f20" fill-opacity="1.00"/>
<rect x="629.92" y="477.16" width="1.16" height="6.14" fill="#231f20" fill-opacity="1.00"/>
<rect x="630.92" y="477.16" width="1.16" height="6.14" fill="#231f20" fill-opacity="1.00"/>
<rect x="632.92" y="477.16" width="1.16" height="6.14" fill="#231f20" fill-opacity="1.00"/>
<rect x="634.92" y="477.16" width="1.16" height="6.14" fill="#231f20" fill-opacity="1.00"/>
<rect x="643.92" y="477.16" width="1.16" height="6.14" fill="#231f20" fill-opacity="1.00"/>
<rect x="663.92" y="477.16" width="1.16" height="6.14" fill="#231f20" fill-opacity="1.00"/>
<rect x="665.92" y="477.16" width="1.16" height="6.14" fill="#231f20" fill-opacity="1.00"/>
<rect x="716.92" y="477.16" width="1.16" height="6.14" fill="#231f20" fill-opacity="1.00"/>
<path d="M564.74 476.38L565.24 476.36L565.74 476.35L566.24 476.33L566.74 476.31L567.24 476.28L567.74 476.25L568.24 476.22L568.74 476.19L569.24 476.15L569.74 476.10L570.24 476.05L570.74 475.99L571.24 475.93L571.74 475.85L572.24 475.77L572.74 475.68L573.24 475.58L573.74 475.46L574.24 475.33L574.74 475.19L575.24 475.03L575.74 474.85L576.24 474.65L576.74 474.43L577.24 474.19L577.74 473.92L578.24 473.63L578.74 473.30L579.24 472.94L579.74 472.55L580.24 472.12L580.74 471.66L581.24 471.14L581.74 470.59L582.24 469.98L582.74 469.33L583.24 468.61L583.74 467.84L584.24 467.01L584.74 466.12L585.24 465.15L585.74 464.12L586.24 463.01L586.74 461.82L587.24 460.55L587.74 459.20L588.24 457.77L588.74 456.24L589.24 454.63L589.74 452.92L590.24 451.12L590.74 449.22L591.24 447.23L591.74 445.14L592.24 442.95L592.74 440.66L593.24 438.28L593.74 435.80L594.24 433.23L594.74 430.56L595.24 427.81L595.74 424.97L596.24 422.04L596.74 419.04L597.24 415.96L597.74 412.82L598.24 409.61L598.74 406.35L599.24 403.04L599.74 399.68L600.24 396.29L600.74 392.86L601.24 389.42L601.74 385.96L602.24 382.50L602.74 379.05L603.24 375.60L603.74 372.17L604.24 368.78L604.74 365.41L605.24 362.10L605.74 358.83L606.24 355.62L606.74 352.48L607.24 349.41L607.74 346.42L608.24 343.51L608.74 340.69L609.24 337.97L609.74 335.34L610.24 332.82L610.74 330.41L611.24 328.10L611.74 325.90L612.24 323.82L612.74 321.85L613.24 319.99L613.74 318.25L614.24 316.63L614.74 315.12L615.24 313.73L615.74 312.45L616.24 311.28L616.74 310.23L617.24 309.29L617.74 308.46L618.24 307.74L618.74 307.12L619.24 306.61L619.74 306.21L620.24 305.91L620.74 305.71L621.24 305.61L621.74 305.61L622.24 305.70L622.74 305.89L623.24 306.18L623.74 306.56L624.24 307.03L624.74 307.59L625.24 308.25L625.74 308.98L626.24 309.81L626.74 310.72L627.24 311.72L627.74 312.79L628.24 313.95L628.74 315.19L629.24 316.50L629.74 317.88L630.24 319.34L630.74 320.86L631.24 322.45L631.74 324.11L632.24 325.82L632.74 327.59L633.24 329.42L633.74 331.29L634.24 333.21L634.74 335.18L635.24 337.18L635.74 339.22L636.24 341.29L636.74 343.39L637.24 345.51L637.74 347.66L638.24 349.81L638.74 351.98L639.24 354.16L639.74 356.35L640.24 358.53L640.74 360.71L641.24 362.89L641.74 365.06L642.24 367.21L642.74 369.35L643.24 371.47L643.74 373.56L644.24 375.63L644.74 377.67L645.24 379.68L645.74 381.66L646.24 383.60L646.74 385.50L647.24 387.36L647.74 389.18L648.24 390.96L648.74 392.69L649.24 394.37L649.74 396.00L650.24 397.58L650.74 399.11L651.24 400.59L651.74 402.02L652.24 403.39L652.74 404.72L653.24 405.99L653.74 407.22L654.24 408.39L654.74 409.52L655.24 410.59L655.74 411.63L656.24 412.62L656.74 413.58L657.24 414.49L657.74 415.37L658.24 416.23L658.74 417.05L659.24 417.85L659.74 418.62L660.24 419.38L660.74 420.13L661.24 420.87L661.74 421.60L662.24 422.32L662.74 423.05L663.24 423.78L663.74 424.52L664.24 425.27L664.74 426.03L665.24 426.81L665.74 427.61L666.24 428.43L666.74 429.26L667.24 430.13L667.74 431.01L668.24 431.92L668.74 432.86L669.24 433.82L669.74 434.81L670.24 435.82L670.74 436.85L671.24 437.91L671.74 438.98L672.24 440.08L672.74 441.19L673.24 442.31L673.74 443.45L674.24 444.59L674.74 445.74L675.24 446.90L675.74 448.05L676.24 449.20L676.74 450.35L677.24 451.48L677.74 452.61L678.24 453.72L678.74 454.81L679.24 455.88L679.74 456.93L680.24 457.96L680.74 458.95L681.24 459.92L681.74 460.86L682.24 461.77L682.74 462.64L683.24 463.47L683.74 464.27L684.24 465.03L684.74 465.75L685.24 466.43L685.74 467.07L686.24 467.67L686.74 468.24L687.24 468.76L687.74 469.24L688.24 469.68L688.74 470.08L689.24 470.44L689.74 470.76L690.24 471.04L690.74 471.29L691.24 471.49L691.74 471.66L692.24 471.79L692.74 471.89L693.24 471.95L693.74 471.97L694.24 471.97L694.74 471.92L695.24 471.85L695.74 471.75L696.24 471.61L696.74 471.44L697.24 471.25L697.74 471.02L698.24 470.77L698.74 470.49L699.24 470.19L699.74 469.86L700.24 469.51L700.74 469.14L701.24 468.74L701.74 468.33L702.24 467.90L702.74 467.45L703.24 466.99L703.74 466.51L704.24 466.03L704.74 465.54L705.24 465.03L705.74 464.53L706.24 464.02L706.74 463.51L707.24 463.00L707.74 462.50L708.24 462.01L708.74 461.52L709.24 461.04L709.74 460.58L710.24 460.13L710.74 459.70L711.24 459.30L711.74 458.91L712.24 458.55L712.74 458.22L713.24 457.91L713.74 457.64L714.24 457.39L714.74 457.18L715.24 457.01L715.74 456.87L716.24 456.76L716.74 456.70L717.24 456.66L717.74 456.67L718.24 456.72L718.74 456.80L719.24 456.92L719.74 457.07L720.24 457.26L720.74 457.48L721.24 457.74L721.74 458.03L722.24 458.34L722.74 458.69L723.24 459.06L723.74 459.46L724.24 459.88L724.74 460.32L725.24 460.77L725.74 461.25L726.24 461.73L726.74 462.23L727.24 462.74L727.74 463.25L728.24 463.77L728.74 464.29L729.24 464.82L729.74 465.34L730.24 465.86L730.74 466.37L731.24 466.87L731.74 467.37L732.24 467.86L732.74 468.34L733.24 468.80L733.74 469.26L734.24 469.70L734.74 470.12L735.24 470.53L735.74 470.92L736.24 471.30L736.74 471.66L737.24 472.00L737.74 472.33L738.24 472.64L738.74 472.93L739.24 473.21L739.74 473.47L740.24 473.72L740.74 473.95L741.24 474.16L741.74 474.36L742.24 474.55L742.74 474.72L743.24 474.88L743.74 475.03L744.24 475.17L744.74 475.29L745.24 475.41L745.74 475.52L746.24 475.61L746.74 475.70L747.24 475.78L747.74 475.86L748.24 475.92L748.74 475.98L749.24 476.04L749.74 476.09L750.24 476.13L750.74 476.17L751.24 476.21L751.74 476.24L752.24 476.26" stroke="#1c1a1b" stroke-width="2.60" fill="none" stroke-linecap="butt" stroke-linejoin="round"/>
<line x1="555.25" y1="476.56" x2="759.50" y2="476.56" stroke="#c6c6c6" stroke-width="1.15"/>
<rect x="557.25" y="298.75" width="202.25" height="184.55" fill="none" stroke="#231f20" stroke-width="1.3"/>
<path d="M582.50 483.30v3.4M626.25 483.30v3.4M670.25 483.30v3.4M714.50 483.30v3.4M758.50 483.30v3.4M557.25 476.46h-3.4M557.25 433.00h-3.4M557.25 390.00h-3.4M557.25 347.25h-3.4M557.25 303.75h-3.4" stroke="#231f20" stroke-width="1.35" fill="none"/>
<text x="581.75" y="499.70" font-size="11" text-anchor="middle">0</text>
<text x="671.25" y="499.70" font-size="11" text-anchor="middle">20000</text>
<text x="753.00" y="499.70" font-size="11" text-anchor="middle">40000</text>
<text transform="translate(550.70 476.46) rotate(-90)" font-size="11.3" text-anchor="middle">0</text>
<text transform="translate(550.70 392.50) rotate(-90)" font-size="11.3" text-anchor="middle">4e-05</text>
<text transform="translate(550.70 311.00) rotate(-90)" font-size="11.3" text-anchor="middle">8e-05</text>
<text x="665.60" y="519.30" font-size="12.8" text-anchor="middle">Loading rate (pN/s)</text>
<rect x="869.92" y="477.16" width="1.16" height="6.14" fill="#231f20" fill-opacity="1.00"/>
<rect x="877.92" y="477.16" width="1.16" height="6.14" fill="#231f20" fill-opacity="1.00"/>
<rect x="879.92" y="477.16" width="1.16" height="6.14" fill="#231f20" fill-opacity="1.00"/>
<rect x="891.92" y="477.16" width="1.16" height="6.14" fill="#231f20" fill-opacity="1.00"/>
<rect x="902.92" y="477.16" width="1.16" height="6.14" fill="#231f20" fill-opacity="1.00"/>
<rect x="904.92" y="477.16" width="1.16" height="6.14" fill="#231f20" fill-opacity="1.00"/>
<rect x="916.92" y="477.16" width="1.16" height="6.14" fill="#231f20" fill-opacity="1.00"/>
<rect x="921.92" y="477.16" width="1.16" height="6.14" fill="#231f20" fill-opacity="1.00"/>
<rect x="953.92" y="477.16" width="1.16" height="6.14" fill="#231f20" fill-opacity="1.00"/>
<rect x="962.92" y="477.16" width="1.16" height="6.14" fill="#231f20" fill-opacity="1.00"/>
<path d="M823.70 476.07L824.20 476.03L824.70 475.98L825.20 475.93L825.70 475.87L826.20 475.81L826.70 475.74L827.20 475.66L827.70 475.58L828.20 475.49L828.70 475.39L829.20 475.29L829.70 475.17L830.20 475.05L830.70 474.91L831.20 474.76L831.70 474.60L832.20 474.43L832.70 474.24L833.20 474.04L833.70 473.83L834.20 473.59L834.70 473.34L835.20 473.07L835.70 472.78L836.20 472.47L836.70 472.13L837.20 471.78L837.70 471.40L838.20 470.99L838.70 470.55L839.20 470.09L839.70 469.60L840.20 469.07L840.70 468.52L841.20 467.93L841.70 467.30L842.20 466.64L842.70 465.94L843.20 465.20L843.70 464.42L844.20 463.60L844.70 462.74L845.20 461.83L845.70 460.88L846.20 459.88L846.70 458.83L847.20 457.73L847.70 456.58L848.20 455.38L848.70 454.13L849.20 452.83L849.70 451.48L850.20 450.07L850.70 448.61L851.20 447.09L851.70 445.52L852.20 443.90L852.70 442.22L853.20 440.49L853.70 438.70L854.20 436.86L854.70 434.97L855.20 433.03L855.70 431.04L856.20 428.99L856.70 426.90L857.20 424.76L857.70 422.58L858.20 420.36L858.70 418.09L859.20 415.79L859.70 413.44L860.20 411.07L860.70 408.66L861.20 406.22L861.70 403.75L862.20 401.27L862.70 398.76L863.20 396.23L863.70 393.69L864.20 391.14L864.70 388.58L865.20 386.01L865.70 383.44L866.20 380.88L866.70 378.32L867.20 375.77L867.70 373.24L868.20 370.72L868.70 368.22L869.20 365.74L869.70 363.28L870.20 360.86L870.70 358.47L871.20 356.11L871.70 353.79L872.20 351.51L872.70 349.27L873.20 347.08L873.70 344.94L874.20 342.84L874.70 340.80L875.20 338.81L875.70 336.88L876.20 335.00L876.70 333.19L877.20 331.43L877.70 329.73L878.20 328.09L878.70 326.51L879.20 325.00L879.70 323.54L880.20 322.15L880.70 320.82L881.20 319.55L881.70 318.35L882.20 317.20L882.70 316.12L883.20 315.09L883.70 314.13L884.20 313.22L884.70 312.37L885.20 311.58L885.70 310.84L886.20 310.16L886.70 309.52L887.20 308.95L887.70 308.42L888.20 307.94L888.70 307.51L889.20 307.12L889.70 306.79L890.20 306.49L890.70 306.24L891.20 306.04L891.70 305.88L892.20 305.75L892.70 305.67L893.20 305.63L893.70 305.62L894.20 305.66L894.70 305.73L895.20 305.84L895.70 305.99L896.20 306.17L896.70 306.39L897.20 306.64L897.70 306.93L898.20 307.26L898.70 307.63L899.20 308.02L899.70 308.46L900.20 308.93L900.70 309.44L901.20 309.99L901.70 310.57L902.20 311.19L902.70 311.85L903.20 312.54L903.70 313.28L904.20 314.05L904.70 314.86L905.20 315.71L905.70 316.60L906.20 317.53L906.70 318.50L907.20 319.51L907.70 320.56L908.20 321.65L908.70 322.78L909.20 323.95L909.70 325.16L910.20 326.41L910.70 327.70L911.20 329.03L911.70 330.39L912.20 331.79L912.70 333.23L913.20 334.71L913.70 336.22L914.20 337.76L914.70 339.34L915.20 340.95L915.70 342.59L916.20 344.26L916.70 345.95L917.20 347.67L917.70 349.42L918.20 351.19L918.70 352.98L919.20 354.78L919.70 356.60L920.20 358.44L920.70 360.29L921.20 362.15L921.70 364.01L922.20 365.88L922.70 367.75L923.20 369.63L923.70 371.49L924.20 373.36L924.70 375.21L925.20 377.06L925.70 378.89L926.20 380.70L926.70 382.50L927.20 384.27L927.70 386.02L928.20 387.74L928.70 389.44L929.20 391.10L929.70 392.73L930.20 394.32L930.70 395.88L931.20 397.40L931.70 398.87L932.20 400.30L932.70 401.68L933.20 403.02L933.70 404.31L934.20 405.54L934.70 406.73L935.20 407.86L935.70 408.95L936.20 409.98L936.70 410.95L937.20 411.87L937.70 412.74L938.20 413.55L938.70 414.31L939.20 415.01L939.70 415.67L940.20 416.27L940.70 416.82L941.20 417.32L941.70 417.77L942.20 418.18L942.70 418.54L943.20 418.86L943.70 419.13L944.20 419.37L944.70 419.57L945.20 419.74L945.70 419.87L946.20 419.98L946.70 420.05L947.20 420.11L947.70 420.14L948.20 420.15L948.70 420.15L949.20 420.13L949.70 420.11L950.20 420.07L950.70 420.04L951.20 420.00L951.70 419.96L952.20 419.93L952.70 419.90L953.20 419.88L953.70 419.87L954.20 419.88L954.70 419.91L955.20 419.95L955.70 420.01L956.20 420.10L956.70 420.21L957.20 420.35L957.70 420.51L958.20 420.71L958.70 420.93L959.20 421.19L959.70 421.47L960.20 421.79L960.70 422.15L961.20 422.54L961.70 422.96L962.20 423.42L962.70 423.91L963.20 424.43L963.70 424.99L964.20 425.59L964.70 426.21L965.20 426.87L965.70 427.55L966.20 428.27L966.70 429.02L967.20 429.79L967.70 430.59L968.20 431.42L968.70 432.26L969.20 433.13L969.70 434.02L970.20 434.93L970.70 435.85L971.20 436.79L971.70 437.74L972.20 438.70L972.70 439.68L973.20 440.65L973.70 441.64L974.20 442.63L974.70 443.62L975.20 444.61L975.70 445.60L976.20 446.59L976.70 447.57L977.20 448.55L977.70 449.51L978.20 450.47L978.70 451.42L979.20 452.36L979.70 453.28L980.20 454.19L980.70 455.08L981.20 455.96L981.70 456.82L982.20 457.66L982.70 458.48L983.20 459.29L983.70 460.07L984.20 460.83L984.70 461.57L985.20 462.29L985.70 462.99L986.20 463.66L986.70 464.32L987.20 464.95L987.70 465.56L988.20 466.15L988.70 466.71L989.20 467.25L989.70 467.77L990.20 468.27L990.70 468.75L991.20 469.21L991.70 469.65L992.20 470.06L992.70 470.46L993.20 470.84L993.70 471.20L994.20 471.54L994.70 471.86L995.20 472.17L995.70 472.46L996.20 472.73L996.70 472.99L997.20 473.24L997.70 473.47L998.20 473.68L998.70 473.88L999.20 474.08L999.70 474.25L1000.20 474.42L1000.70 474.58L1001.20 474.72L1001.70 474.86L1002.20 474.99L1002.70 475.11L1003.20 475.22L1003.70 475.32L1004.20 475.41L1004.70 475.50L1005.20 475.58L1005.70 475.66L1006.20 475.73L1006.70 475.79L1007.20 475.85L1007.70 475.91L1008.20 475.96L1008.70 476.00L1009.20 476.05L1009.70 476.09L1010.20 476.12" stroke="#1c1a1b" stroke-width="2.60" fill="none" stroke-linecap="butt" stroke-linejoin="round"/>
<line x1="814.25" y1="476.56" x2="1017.50" y2="476.56" stroke="#c6c6c6" stroke-width="1.15"/>
<rect x="816.25" y="298.75" width="201.25" height="184.55" fill="none" stroke="#231f20" stroke-width="1.3"/>
<path d="M842.50 483.30v3.4M876.25 483.30v3.4M910.00 483.30v3.4M944.00 483.30v3.4M977.50 483.30v3.4M1011.50 483.30v3.4M816.25 476.46h-3.4M816.25 437.75h-3.4M816.25 399.50h-3.4M816.25 361.00h-3.4M816.25 322.25h-3.4" stroke="#231f20" stroke-width="1.35" fill="none"/>
<text x="844.00" y="499.70" font-size="11" text-anchor="middle">0</text>
<text x="910.60" y="499.70" font-size="11" text-anchor="middle">20000</text>
<text x="977.50" y="499.70" font-size="11" text-anchor="middle">40000</text>
<text transform="translate(808.50 472.46) rotate(-90)" font-size="11.3" text-anchor="middle">0</text>
<text transform="translate(808.50 402.00) rotate(-90)" font-size="11.3" text-anchor="middle">2e-05</text>
<text transform="translate(808.50 322.00) rotate(-90)" font-size="11.3" text-anchor="middle">4e-05</text>
<text x="928.90" y="519.30" font-size="12.8" text-anchor="middle">Loading rate (pN/s)</text>
</g></svg>
</body></html>
